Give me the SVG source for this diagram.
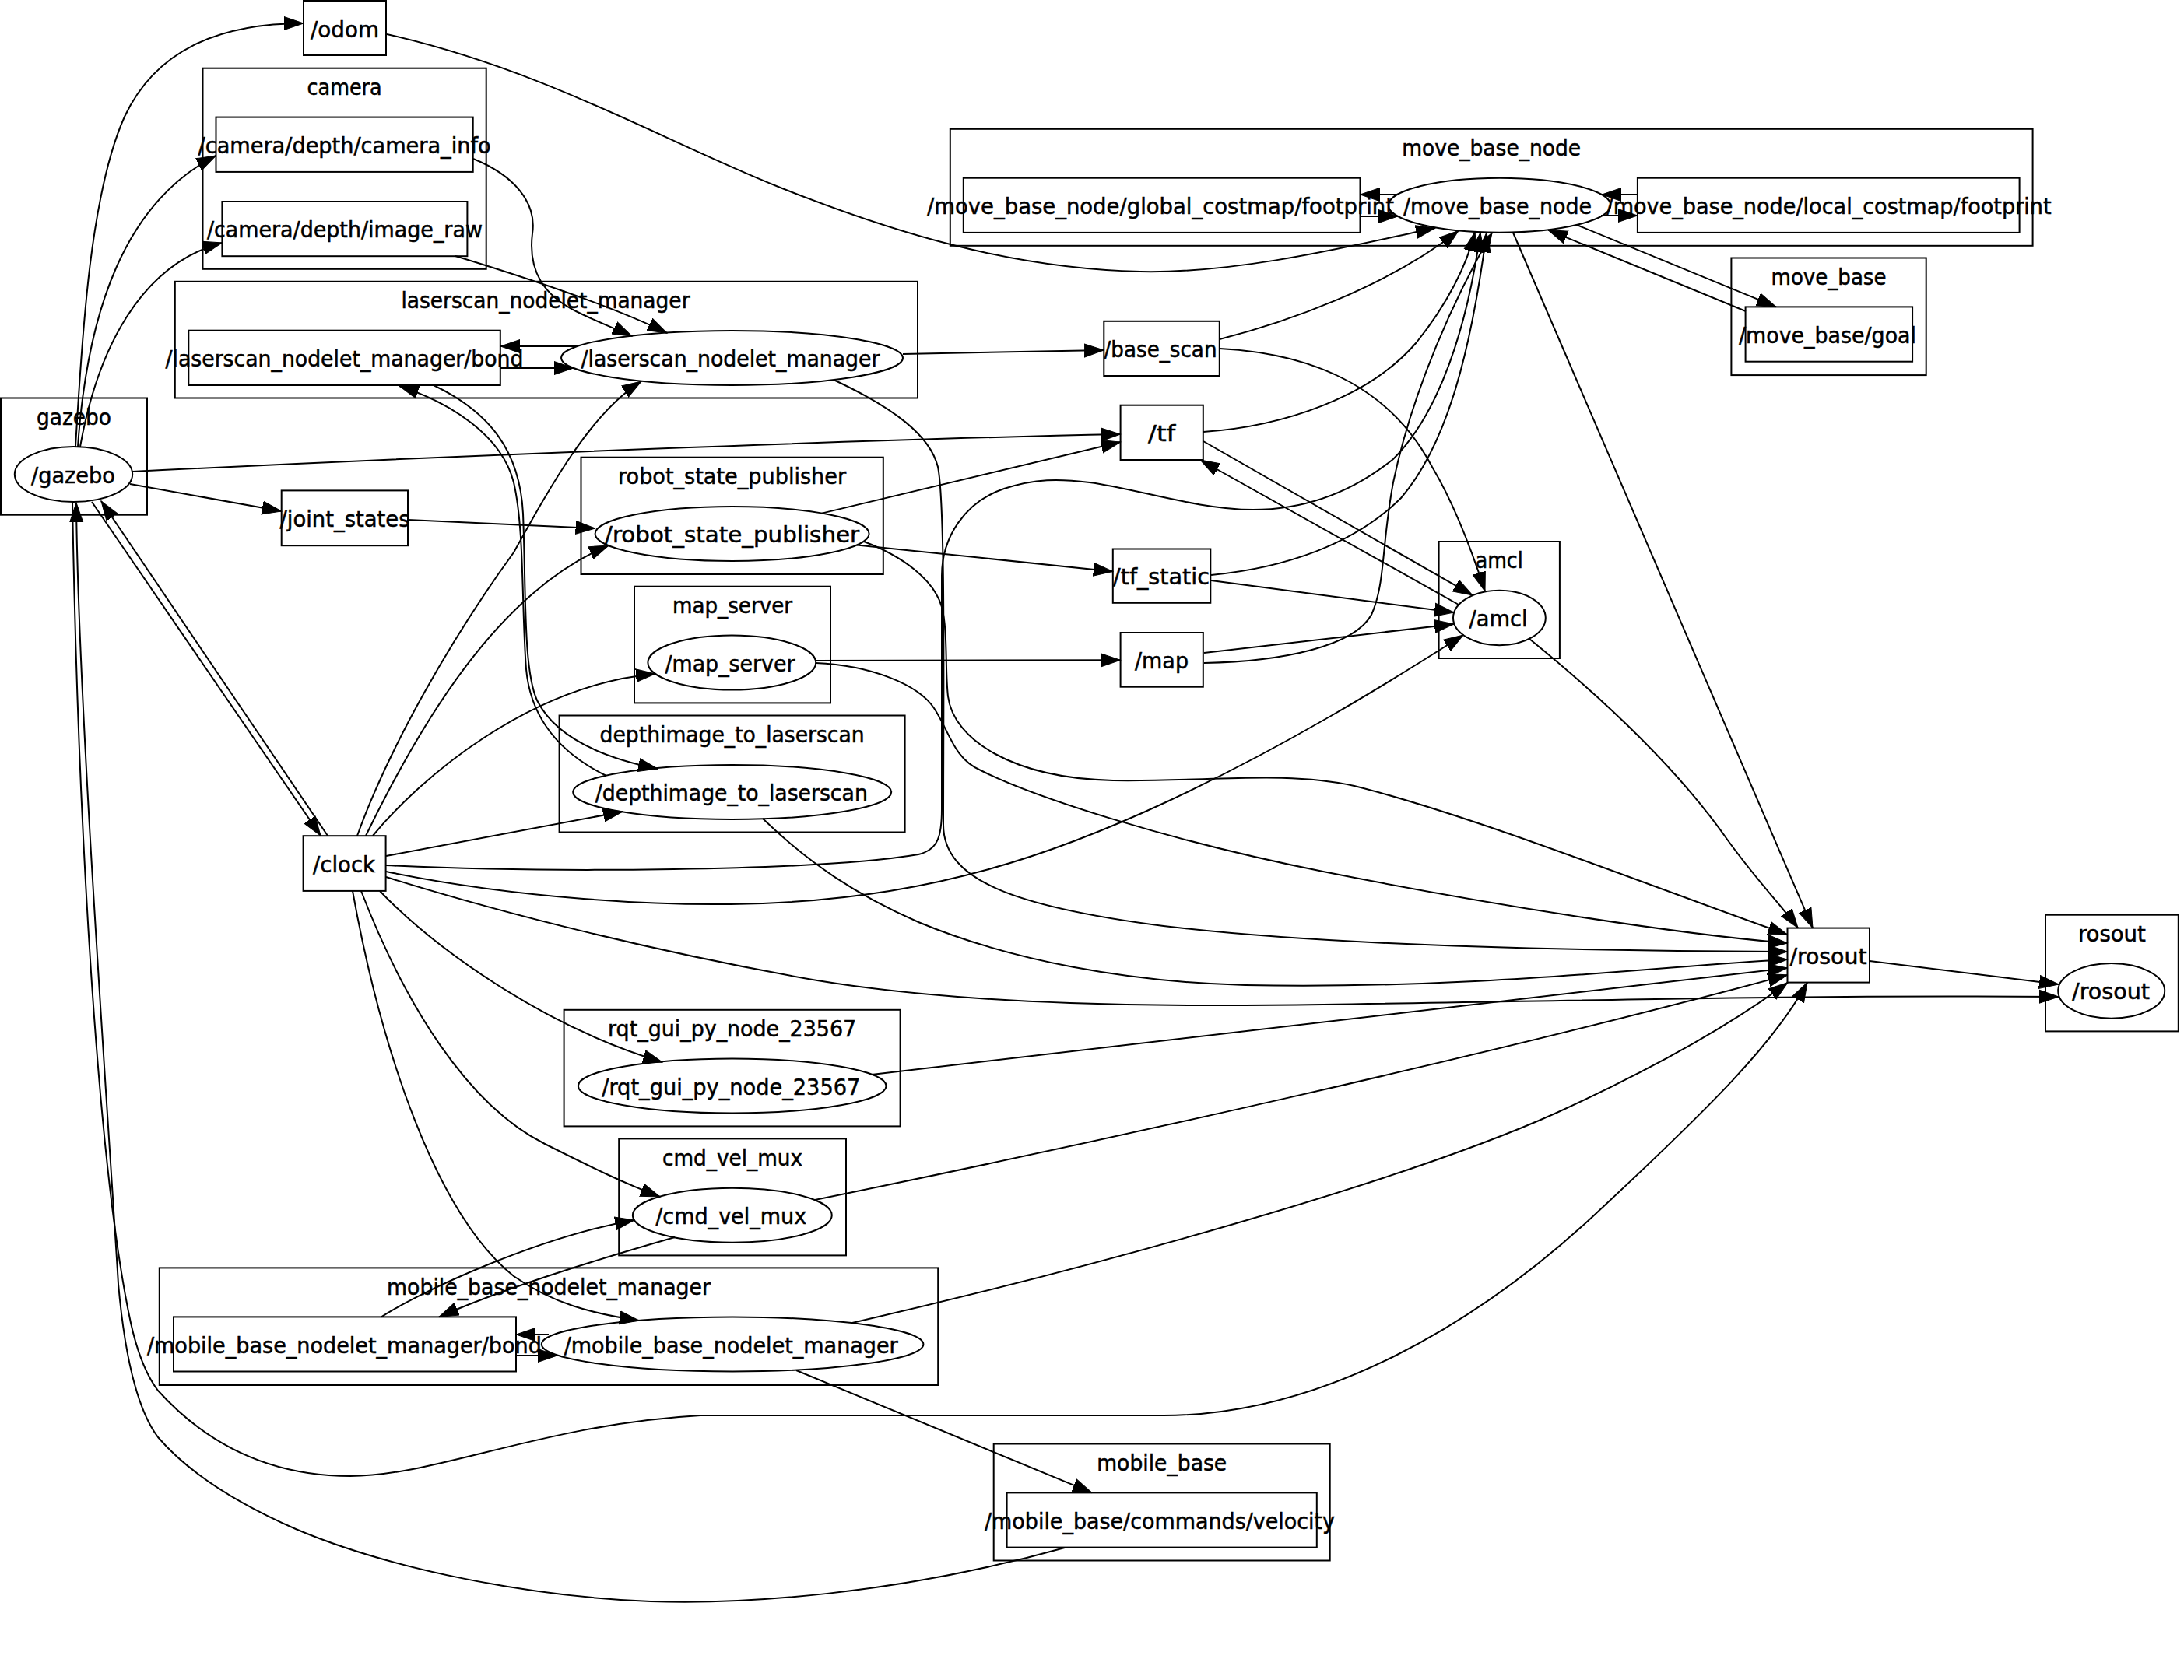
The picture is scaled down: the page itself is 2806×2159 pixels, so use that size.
<svg xmlns="http://www.w3.org/2000/svg" width="2806" height="2159" viewBox="0 0 2806 2159">
<style>
.bg{fill:#ffffff}
.c{fill:none;stroke:#000;stroke-width:2}
.n{fill:none;stroke:#000;stroke-width:2}
.t{font-family:"DejaVu Sans Condensed","DejaVu Sans",sans-serif;font-size:29px;fill:#000;stroke:#000;stroke-width:0.5;text-anchor:middle}
.e path{fill:none;stroke:#000;stroke-width:2;marker-end:url(#a)}
</style>
<defs>
<marker id="a" markerUnits="userSpaceOnUse" markerWidth="26" markerHeight="20" viewBox="0 0 26 20" refX="25" refY="9.5" orient="auto">
<path d="M0,1 L25,9.5 L0,18 Z" fill="#000" stroke="#000" stroke-width="1"/>
</marker>
</defs>
<rect class="bg" x="0" y="0" width="2806" height="2159"/>

<!-- clusters -->
<g id="cluster_camera"><rect class="c" x="260.5" y="87.7" width="364.2" height="258.1"/><text class="t" x="442.6" y="121.7" textLength="96" lengthAdjust="spacingAndGlyphs">camera</text></g>
<g id="cluster_laserscan"><rect class="c" x="224.8" y="361.8" width="954.2" height="149.7"/><text class="t" x="701" y="395.8" textLength="371" lengthAdjust="spacingAndGlyphs">laserscan_nodelet_manager</text></g>
<g id="cluster_gazebo"><rect class="c" x="1" y="511.5" width="188" height="150.2"/><text class="t" x="95" y="546" textLength="96" lengthAdjust="spacingAndGlyphs">gazebo</text></g>
<g id="cluster_rsp"><rect class="c" x="746.5" y="587.7" width="388.3" height="150.3"/><text class="t" x="940.6" y="622" textLength="293" lengthAdjust="spacingAndGlyphs">robot_state_publisher</text></g>
<g id="cluster_map_server"><rect class="c" x="815" y="753.7" width="252" height="149.7"/><text class="t" x="941" y="788" textLength="154" lengthAdjust="spacingAndGlyphs">map_server</text></g>
<g id="cluster_depth"><rect class="c" x="718.6" y="919.5" width="444" height="150"/><text class="t" x="940.6" y="953.5" textLength="340" lengthAdjust="spacingAndGlyphs">depthimage_to_laserscan</text></g>
<g id="cluster_rqt"><rect class="c" x="724.6" y="1297.8" width="432" height="149.6"/><text class="t" x="940.6" y="1332" textLength="319" lengthAdjust="spacingAndGlyphs">rqt_gui_py_node_23567</text></g>
<g id="cluster_cmd"><rect class="c" x="795.2" y="1463.4" width="291.8" height="150"/><text class="t" x="941" y="1497.5" textLength="180" lengthAdjust="spacingAndGlyphs">cmd_vel_mux</text></g>
<g id="cluster_mbnm"><rect class="c" x="204.8" y="1629.4" width="1000.4" height="150.6"/><text class="t" x="705" y="1663.5" textLength="416" lengthAdjust="spacingAndGlyphs">mobile_base_nodelet_manager</text></g>
<g id="cluster_mobile_base"><rect class="c" x="1276.7" y="1855.5" width="432" height="150"/><text class="t" x="1492.7" y="1889.5" textLength="167" lengthAdjust="spacingAndGlyphs">mobile_base</text></g>
<g id="cluster_move_base_node"><rect class="c" x="1220.8" y="165.8" width="1390.8" height="150"/><text class="t" x="1916.2" y="200" textLength="230" lengthAdjust="spacingAndGlyphs">move_base_node</text></g>
<g id="cluster_move_base"><rect class="c" x="2224.4" y="331.5" width="250.3" height="150.6"/><text class="t" x="2349.5" y="365.5" textLength="148" lengthAdjust="spacingAndGlyphs">move_base</text></g>
<g id="cluster_amcl"><rect class="c" x="1848.6" y="696" width="155.3" height="150"/><text class="t" x="1926.2" y="730" textLength="61" lengthAdjust="spacingAndGlyphs">amcl</text></g>
<g id="cluster_rosout"><rect class="c" x="2628" y="1175.7" width="170.8" height="149.7"/><text class="t" x="2713.4" y="1209.7" textLength="87" lengthAdjust="spacingAndGlyphs">rosout</text></g>

<!-- nodes -->
<g id="t_odom"><rect class="n" x="390" y="1" width="106" height="70"/><text class="t" x="443" y="48" textLength="88" lengthAdjust="spacingAndGlyphs">/odom</text></g>
<g id="t_camera_info"><rect class="n" x="277.5" y="150.6" width="330.2" height="70.3"/><text class="t" x="442.6" y="196.7" textLength="376" lengthAdjust="spacingAndGlyphs">/camera/depth/camera_info</text></g>
<g id="t_image_raw"><rect class="n" x="285.4" y="259" width="315" height="70.2"/><text class="t" x="442.9" y="305.1" textLength="354" lengthAdjust="spacingAndGlyphs">/camera/depth/image_raw</text></g>
<g id="t_ls_bond"><rect class="n" x="242.3" y="424.7" width="400.5" height="70.3"/><text class="t" x="442.5" y="470.9" textLength="460" lengthAdjust="spacingAndGlyphs">/laserscan_nodelet_manager/bond</text></g>
<g id="n_ls"><ellipse class="n" cx="940.5" cy="459.9" rx="219.5" ry="35"/><text class="t" x="938.5" y="470.9" textLength="384" lengthAdjust="spacingAndGlyphs">/laserscan_nodelet_manager</text></g>
<g id="n_gazebo"><ellipse class="n" cx="94.5" cy="609.5" rx="75.7" ry="35.5"/><text class="t" x="94" y="620.5" textLength="108" lengthAdjust="spacingAndGlyphs">/gazebo</text></g>
<g id="t_joint_states"><rect class="n" x="361.7" y="630.4" width="162.3" height="70.8"/><text class="t" x="443" y="676.8" textLength="167" lengthAdjust="spacingAndGlyphs">/joint_states</text></g>
<g id="n_rsp"><ellipse class="n" cx="940.6" cy="686" rx="176" ry="35"/><text class="t" x="940.6" y="697" textLength="327" lengthAdjust="spacingAndGlyphs">/robot_state_publisher</text></g>
<g id="n_map_server"><ellipse class="n" cx="940.3" cy="851.5" rx="107.9" ry="35"/><text class="t" x="938" y="862.5" textLength="167" lengthAdjust="spacingAndGlyphs">/map_server</text></g>
<g id="n_depth"><ellipse class="n" cx="940.7" cy="1018" rx="204.5" ry="35"/><text class="t" x="939.8" y="1029" textLength="350" lengthAdjust="spacingAndGlyphs">/depthimage_to_laserscan</text></g>
<g id="t_clock"><rect class="n" x="389.6" y="1074.2" width="106" height="70.7"/><text class="t" x="442" y="1120.5" textLength="80" lengthAdjust="spacingAndGlyphs">/clock</text></g>
<g id="n_rqt"><ellipse class="n" cx="940.7" cy="1395.5" rx="197.9" ry="35"/><text class="t" x="939.3" y="1406.5" textLength="332" lengthAdjust="spacingAndGlyphs">/rqt_gui_py_node_23567</text></g>
<g id="n_cmd"><ellipse class="n" cx="940.8" cy="1561.7" rx="128" ry="35"/><text class="t" x="939.2" y="1572.7" textLength="194" lengthAdjust="spacingAndGlyphs">/cmd_vel_mux</text></g>
<g id="t_mb_bond"><rect class="n" x="223" y="1692.4" width="440" height="70.1"/><text class="t" x="442.4" y="1738.5" textLength="507" lengthAdjust="spacingAndGlyphs">/mobile_base_nodelet_manager/bond</text></g>
<g id="n_mbnm"><ellipse class="n" cx="941.1" cy="1727.5" rx="245.3" ry="35"/><text class="t" x="939.2" y="1738.5" textLength="429" lengthAdjust="spacingAndGlyphs">/mobile_base_nodelet_manager</text></g>
<g id="t_velocity"><rect class="n" x="1293.6" y="1918.4" width="398.2" height="70.2"/><text class="t" x="1490" y="1964.5" textLength="450" lengthAdjust="spacingAndGlyphs">/mobile_base/commands/velocity</text></g>
<g id="t_global_fp"><rect class="n" x="1237.8" y="228.7" width="509.7" height="70.2"/><text class="t" x="1491" y="274.8" textLength="600" lengthAdjust="spacingAndGlyphs">/move_base_node/global_costmap/footprint</text></g>
<g id="n_move_base_node"><ellipse class="n" cx="1926.6" cy="263.8" rx="142.8" ry="35"/><text class="t" x="1924" y="274.8" textLength="242" lengthAdjust="spacingAndGlyphs">/move_base_node</text></g>
<g id="t_local_fp"><rect class="n" x="2103.9" y="228.7" width="490.7" height="70.2"/><text class="t" x="2349.5" y="274.8" textLength="572" lengthAdjust="spacingAndGlyphs">/move_base_node/local_costmap/footprint</text></g>
<g id="t_goal"><rect class="n" x="2242.6" y="394.4" width="214.5" height="70.3"/><text class="t" x="2348" y="440.5" textLength="228" lengthAdjust="spacingAndGlyphs">/move_base/goal</text></g>
<g id="t_base_scan"><rect class="n" x="1418.3" y="412.8" width="148.5" height="70.2"/><text class="t" x="1491" y="458.9" textLength="145" lengthAdjust="spacingAndGlyphs">/base_scan</text></g>
<g id="t_tf"><rect class="n" x="1439.6" y="520.7" width="106.2" height="70.3"/><text class="t" x="1492.6" y="566.8" textLength="35" lengthAdjust="spacingAndGlyphs">/tf</text></g>
<g id="t_tf_static"><rect class="n" x="1429.8" y="705.5" width="125.5" height="69.3"/><text class="t" x="1492" y="751" textLength="124" lengthAdjust="spacingAndGlyphs">/tf_static</text></g>
<g id="t_map"><rect class="n" x="1439.6" y="813" width="106.2" height="69.7"/><text class="t" x="1492.5" y="858.8" textLength="69" lengthAdjust="spacingAndGlyphs">/map</text></g>
<g id="n_amcl"><ellipse class="n" cx="1926.4" cy="794" rx="59.4" ry="35.3"/><text class="t" x="1925" y="805" textLength="75" lengthAdjust="spacingAndGlyphs">/amcl</text></g>
<g id="t_rosout"><rect class="n" x="2296.5" y="1192.6" width="105.5" height="70"/><text class="t" x="2349" y="1238.6" textLength="99" lengthAdjust="spacingAndGlyphs">/rosout</text></g>
<g id="n_rosout"><ellipse class="n" cx="2712.7" cy="1273.4" rx="68.5" ry="35.4"/><text class="t" x="2712" y="1284.4" textLength="100" lengthAdjust="spacingAndGlyphs">/rosout</text></g>

<!-- connectors -->
<g id="edges" class="e">
<path d="M97,574 C105,440 115,250 160,150 C200,65 280,30 390,30"/>
<path d="M100,574 C112,400 160,260 277.5,200"/>
<path d="M103,574 C125,450 180,340 285.4,312"/>
<path d="M170,606 C600,585 1100,565 1439.6,558"/>
<path d="M167,622 L361.7,657"/>
<path d="M118,645 L412,1074"/>
<path d="M421,1074 L130,644"/>
<path d="M93,645 C100,1050 125,1500 168,1700 C178,1745 190,1770 203,1787 C260,1850 340,1897 450,1897 C560,1897 700,1830 900,1819 L1495,1819 C1700,1819 1900,1700 2050,1560 C2200,1420 2280,1340 2322,1262.6"/>
<path d="M1368,1989 C1150,2050 950,2062 836,2058 C680,2052 500,2016 380,1965 C300,1930 240,1890 203,1847 C175,1810 160,1740 152,1650 C140,1450 100,900 98,646"/>
<path d="M497,44 C700,90 850,180 1000,240 C1150,300 1300,345 1465,349 C1600,352 1760,310 1844,293"/>
<path d="M608,204 C660,225 690,260 684,300 C678,350 700,380 740,400 C770,415 795,424 812,432"/>
<path d="M585,329 C680,358 790,395 857,428"/>
<path d="M741,445 L643,445"/>
<path d="M643,473 L737,473"/>
<path d="M1160,455 L1418.3,450"/>
<path d="M557,495 C630,530 668,580 672,660 C676,760 672,860 690,900 C715,950 780,975 845,988"/>
<path d="M779,997 C720,968 682,925 676,860 C670,780 674,680 660,620 C645,560 580,518 513,496"/>
<path d="M1071,488 C1150,525 1195,560 1205,600 C1215,650 1212,900 1212,1060 C1212,1130 1300,1165 1495,1190 C1700,1215 2000,1222 2296.5,1223"/>
<path d="M459,1074 C500,960 580,820 660,710 C710,620 760,530 824,490"/>
<path d="M470,1074 C540,930 640,760 782,701"/>
<path d="M479,1074 C540,1000 680,880 842,866"/>
<path d="M496,1100 L800,1043"/>
<path d="M496,1112 C700,1122 1050,1120 1180,1098 C1205,1092 1210,1075 1210,1040 L1210,740 C1210,690 1240,645 1290,628 C1330,615 1360,615 1400,620 C1460,628 1540,655 1610,655 C1680,655 1740,630 1790,590 C1850,530 1885,420 1902,299"/>
<path d="M496,1120 C650,1152 850,1168 1000,1160 C1200,1150 1350,1100 1500,1030 C1650,960 1780,880 1880,816"/>
<path d="M496,1127 C650,1175 850,1225 1050,1260 C1250,1293 1500,1294 1700,1291 C2000,1287 2300,1278 2645,1281"/>
<path d="M488,1145 C560,1220 700,1320 851,1365"/>
<path d="M464,1145 C520,1290 600,1420 700,1470 C760,1500 800,1520 848,1538"/>
<path d="M453,1145 C490,1350 560,1560 660,1640 C710,1675 760,1688 821,1697"/>
<path d="M524,668 L764.6,679"/>
<path d="M1056,659.6 L1439.6,568"/>
<path d="M1101,700.4 L1429.8,734.4"/>
<path d="M1110,696 C1160,715 1200,745 1210,780 C1218,810 1214,860 1218,895 C1225,950 1300,1000 1430,1003 C1550,1005 1650,990 1740,1010 C1900,1050 2150,1150 2296.5,1201"/>
<path d="M1048,849 L1439.6,848.3"/>
<path d="M1048,852 C1120,855 1180,880 1200,910 C1220,940 1225,975 1260,990 C1330,1025 1500,1080 1700,1120 C1900,1160 2150,1200 2296.5,1212"/>
<path d="M980,1052 C1040,1110 1100,1150 1180,1185 C1300,1235 1450,1262 1600,1266 C1900,1272 2150,1240 2296.5,1233"/>
<path d="M1120,1381 C1500,1338 1900,1290 2296.5,1244"/>
<path d="M1047,1542 C1400,1470 1900,1360 2296.5,1253"/>
<path d="M1095,1700 C1400,1630 1800,1520 2000,1430 C2120,1375 2220,1320 2297,1262.6"/>
<path d="M1965,821 C2050,890 2150,980 2220,1080 C2260,1135 2290,1165 2310,1192.6"/>
<path d="M1944,299 L2329,1192.6"/>
<path d="M1795,250 L1747.5,250"/>
<path d="M1747.5,278 L1796,278"/>
<path d="M2103.9,250 L2058,250"/>
<path d="M2057,277 L2103.9,277"/>
<path d="M2026,289 L2282,394.4"/>
<path d="M2243,400 L1989,295.5"/>
<path d="M1567,436 C1650,415 1780,370 1874,296.5"/>
<path d="M1567,448 C1700,455 1790,505 1840,600 C1870,650 1895,720 1908,760"/>
<path d="M1546,555 C1650,548 1760,510 1820,440 C1860,390 1885,340 1895,298"/>
<path d="M1546,567 L1892,765"/>
<path d="M1874,777 L1542,591"/>
<path d="M1556,739 C1650,730 1740,700 1800,640 C1860,570 1890,450 1910,299"/>
<path d="M1556,746 L1868,787"/>
<path d="M1547,852 C1650,850 1740,830 1762,790 C1780,750 1775,700 1790,620 C1815,500 1870,380 1917,299"/>
<path d="M1547,839 L1868,802"/>
<path d="M705,1715 L663,1715"/>
<path d="M663,1742 L716,1742"/>
<path d="M1023,1761 L1403,1918.4"/>
<path d="M490,1692.4 C540,1660 690,1590 815,1568"/>
<path d="M867,1590 C790,1612 660,1650 564,1692.4"/>
<path d="M2402,1235 L2645,1265"/>
</g>
</svg>
